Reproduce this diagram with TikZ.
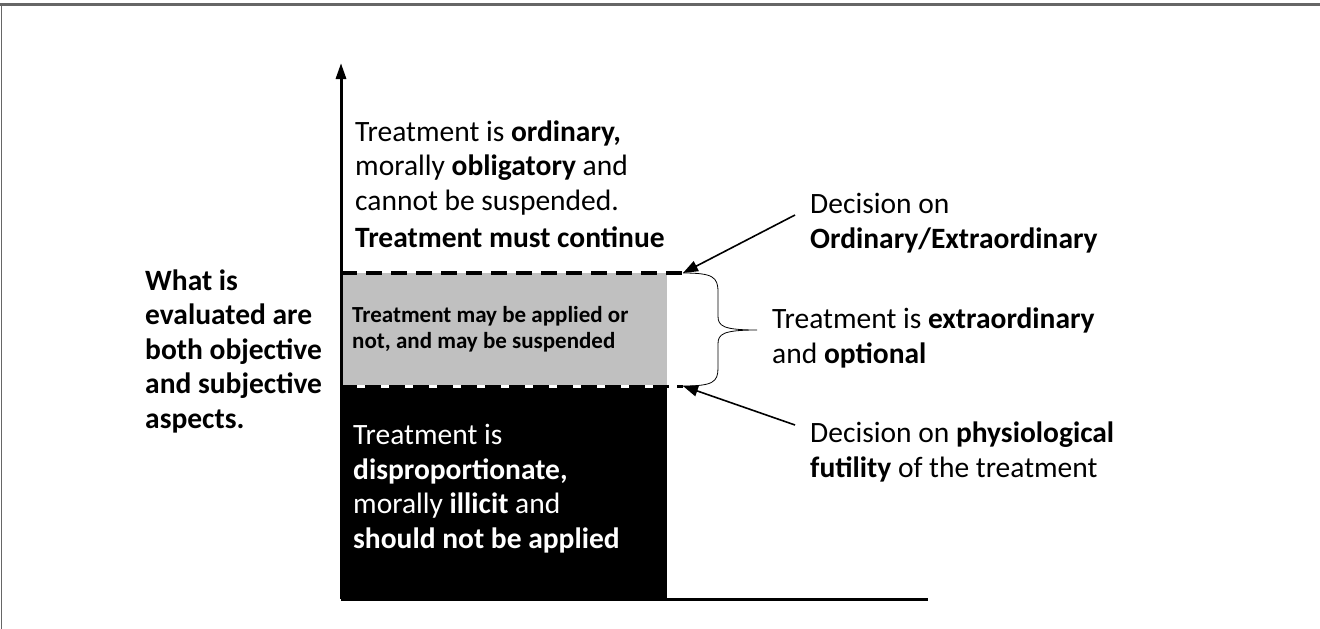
\documentclass[tikz,border=0pt]{standalone}
\usepackage{fontspec}
\setmainfont{Carlito}
\usetikzlibrary{arrows.meta}
\definecolor{frameGray}{RGB}{102,102,102}
\definecolor{optionalGray}{RGB}{192,192,192}

\begin{document}
\begin{tikzpicture}[
  x=1pt,y=-1pt,
  bigtext/.style={anchor=base west,inner sep=0pt,align=left,font=\fontsize{29.5}{34.5}\selectfont},
  boldtext/.style={bigtext,font=\bfseries\fontsize{29.5}{34.5}\selectfont},
  smalltext/.style={anchor=base west,inner sep=0pt,align=left,font=\bfseries\fontsize{23}{26}\selectfont},
  axis/.style={line width=3pt},
  arrow/.style={-{Triangle[length=15pt,width=11pt]},line width=1.6pt},
  brace/.style={line width=0.8pt}
]
  \useasboundingbox (0,0) rectangle (1320,629);
  % frame
  \draw[frameGray,line width=3pt] (0,4) -- (1320,4);
  \draw[frameGray,line width=1.5pt] (1.5,4) -- (1.5,629);
  % regions
  \fill[optionalGray] (341,273) rectangle (667,386);
  \fill[black] (341,386) rectangle (667,599);
  % axes
  \coordinate (origin) at (341,599);
  \draw[axis,-{Triangle[length=16pt,width=10pt]}] (origin) -- (341,63);
  \draw[axis] (origin) -- (928,599);
  % limits
  \coordinate (upperEnd) at (683,273);
  \coordinate (lowerEnd) at (683,386);
  \coordinate (braceTip) at (757,330);
  \draw[line width=4.5pt,dash pattern=on 16pt off 9pt] (341,273) -- (upperEnd);
  \draw[white,line width=3pt] (341,386) -- (lowerEnd);
  \draw[line width=3pt,dash pattern=on 16pt off 8pt] (341,386) -- (lowerEnd);
  \draw[brace] (upperEnd) .. controls (713,273) and (718,277) .. (718,292)
    -- (718,316) .. controls (718,326) and (723,330) .. (braceTip)
    .. controls (723,330) and (718,334) .. (718,344)
    -- (718,368) .. controls (718,382) and (713,386) .. (lowerEnd);
  % texts (anchored at the baseline of their last line)
  \node[bigtext] (ordinaryText) at (355,210) {Treatment is \textbf{ordinary,}\\morally \textbf{obligatory} and\\cannot be suspended.};
  \node[boldtext] (continueText) at (355,247) {Treatment must continue};
  \node[smalltext] (mayText) at (352,348) {Treatment may be applied or\\not, and may be suspended};
  \node[bigtext,text=white] (illicitText) at (353,548) {Treatment is\\\textbf{disproportionate,}\\morally \textbf{illicit} and\\\textbf{should not be applied}};
  \node[boldtext] (aspectsText) at (145,428) {What is\\evaluated are\\both objective\\and subjective\\aspects.};
  \node[bigtext] (decisionTop) at (810,248) {Decision on\\\textbf{Ordinary/Extraordinary}};
  \node[bigtext] (extraText) at (772,363) {Treatment is \textbf{extraordinary}\\and \textbf{optional}};
  \node[bigtext] (decisionBottom) at (810,477) {Decision on \textbf{physiological}\\\textbf{futility} of the treatment};
  % arrows
  \draw[arrow] ([shift={(-15pt,33pt)}]decisionTop.base west) -- (upperEnd);
  \draw[arrow] ([shift={(-15pt,52pt)}]decisionBottom.base west) -- (lowerEnd);
\end{tikzpicture}
\end{document}
